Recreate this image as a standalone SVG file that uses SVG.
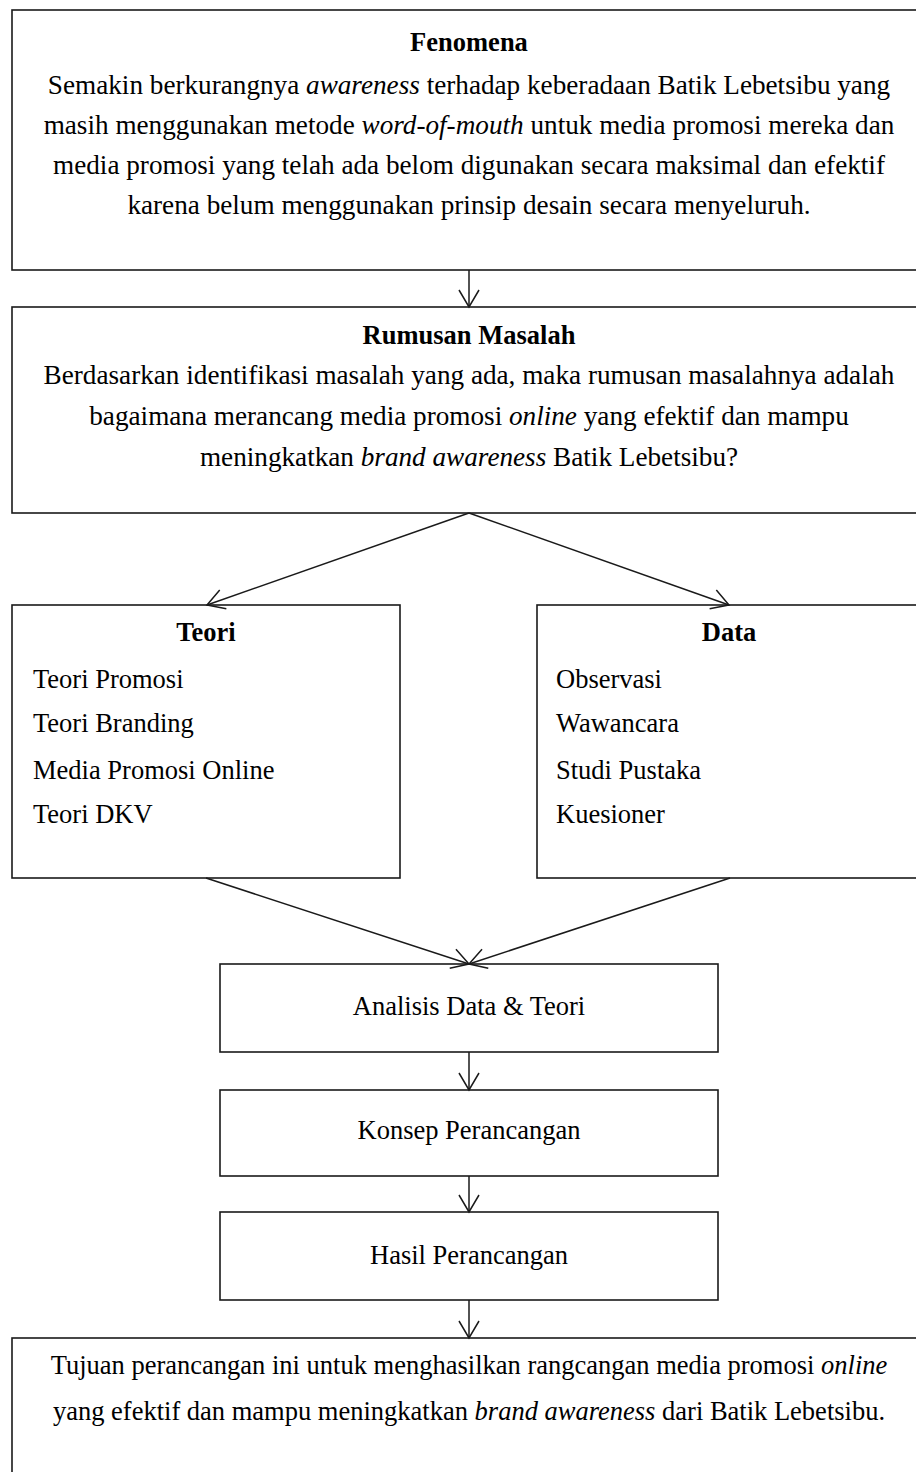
<svg xmlns="http://www.w3.org/2000/svg" width="916" height="1472" viewBox="0 0 916 1472">
<defs>
<marker id="arr" markerUnits="userSpaceOnUse" orient="auto" refX="0" refY="0" markerWidth="20" markerHeight="24" overflow="visible">
<path d="M-17,-10 L0,0 L-17,10" fill="none" stroke="#1a1a1a" stroke-width="1.5"/>
</marker>
</defs>
<style>
.box{fill:#fff;stroke:#1a1a1a;stroke-width:1.6}
.t{font-family:"Liberation Serif","Times New Roman",serif;font-size:26.5px;fill:#000}
.l{font-size:27.2px}
.b{font-weight:bold}
.c{text-anchor:middle}
.conn{fill:none;stroke:#1a1a1a;stroke-width:1.5;marker-end:url(#arr)}
</style>
<rect width="916" height="1472" fill="#fff"/>
<g id="fenomena">
<rect class="box" x="12" y="10" width="914" height="260"/>
<text class="t b c" x="469" y="51">Fenomena</text>
<text class="t l c" x="469" y="94">Semakin berkurangnya <tspan font-style="italic">awareness</tspan> terhadap keberadaan Batik Lebetsibu yang</text>
<text class="t l c" x="469" y="134">masih menggunakan metode <tspan font-style="italic">word-of-mouth</tspan> untuk media promosi mereka dan</text>
<text class="t l c" x="469" y="174">media promosi yang telah ada belom digunakan secara maksimal dan efektif</text>
<text class="t l c" x="469" y="214">karena belum menggunakan prinsip desain secara menyeluruh.</text>
</g>
<g id="rumusan">
<rect class="box" x="12" y="307" width="914" height="206"/>
<text class="t b c" x="469" y="344">Rumusan Masalah</text>
<text class="t l c" x="469" y="384">Berdasarkan identifikasi masalah yang ada, maka rumusan masalahnya adalah</text>
<text class="t l c" x="469" y="425">bagaimana merancang media promosi <tspan font-style="italic">online</tspan> yang efektif dan mampu</text>
<text class="t l c" x="469" y="466">meningkatkan <tspan font-style="italic">brand awareness</tspan> Batik Lebetsibu?</text>
</g>
<g id="teori">
<rect class="box" x="12" y="605" width="388" height="273"/>
<text class="t b c" x="206" y="641">Teori</text>
<text class="t" x="33" y="688">Teori Promosi</text>
<text class="t" x="33" y="732">Teori Branding</text>
<text class="t" x="33" y="779">Media Promosi Online</text>
<text class="t" x="33" y="823">Teori DKV</text>
</g>
<g id="data">
<rect class="box" x="537" y="605" width="384" height="273"/>
<text class="t b c" x="729" y="641">Data</text>
<text class="t" x="556" y="688">Observasi</text>
<text class="t" x="556" y="732">Wawancara</text>
<text class="t" x="556" y="779">Studi Pustaka</text>
<text class="t" x="556" y="823">Kuesioner</text>
</g>
<g id="analisis">
<rect class="box" x="220" y="964" width="498" height="88"/>
<text class="t c" x="469" y="1015">Analisis Data &amp; Teori</text>
</g>
<g id="konsep">
<rect class="box" x="220" y="1090" width="498" height="86"/>
<text class="t c" x="469" y="1139">Konsep Perancangan</text>
</g>
<g id="hasil">
<rect class="box" x="220" y="1212" width="498" height="88"/>
<text class="t c" x="469" y="1264">Hasil Perancangan</text>
</g>
<g id="tujuan">
<rect class="box" x="12" y="1338" width="914" height="150"/>
<text class="t c" x="469" y="1374">Tujuan perancangan ini untuk menghasilkan rangcangan media promosi <tspan font-style="italic">online</tspan></text>
<text class="t c" x="469" y="1420">yang efektif dan mampu meningkatkan <tspan font-style="italic">brand awareness</tspan> dari Batik Lebetsibu.</text>
</g>
<g id="connectors">
<line class="conn" x1="469" y1="270" x2="469" y2="307"/>
<line class="conn" x1="469" y1="513" x2="207" y2="605"/>
<line class="conn" x1="469" y1="513" x2="729" y2="605"/>
<line class="conn" x1="206" y1="878" x2="469" y2="964"/>
<line class="conn" x1="730" y1="878" x2="469" y2="964"/>
<line class="conn" x1="469" y1="1052" x2="469" y2="1090"/>
<line class="conn" x1="469" y1="1176" x2="469" y2="1212"/>
<line class="conn" x1="469" y1="1300" x2="469" y2="1338"/>
</g>
</svg>
